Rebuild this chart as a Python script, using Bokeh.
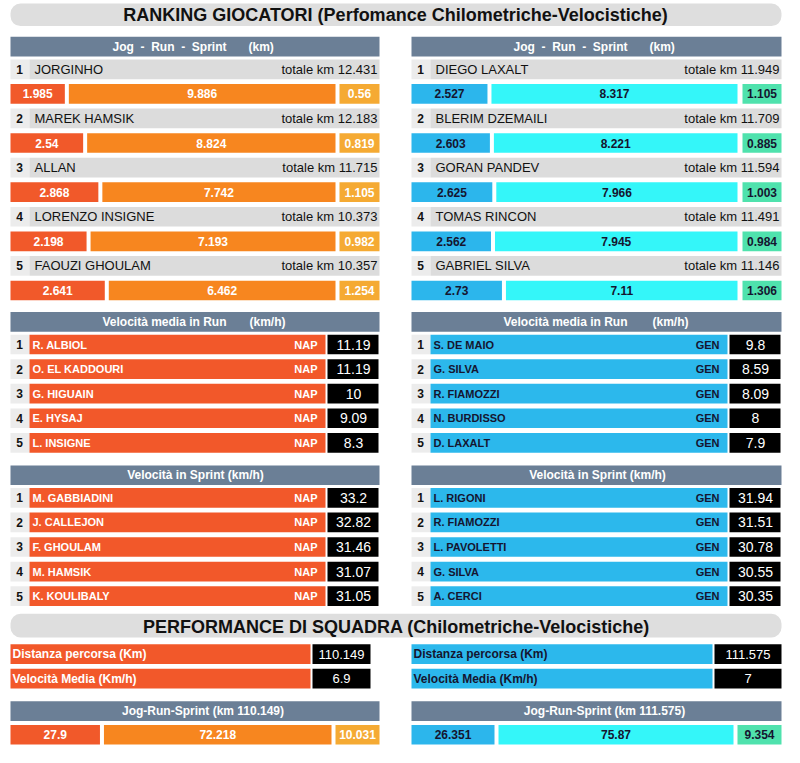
from bokeh.plotting import figure
from bokeh.models import Range1d, ColumnDataSource
from bokeh.core.properties import value
from bokeh.embed import file_html
from bokeh.resources import INLINE

# ---------------- data ----------------
nap_players = ["JORGINHO", "MAREK HAMSIK", "ALLAN", "LORENZO INSIGNE", "FAOUZI GHOULAM"]
nap_jog = [1.985, 2.54, 2.868, 2.198, 2.641]
nap_run = [9.886, 8.824, 7.742, 7.193, 6.462]
nap_sprint = [0.56, 0.819, 1.105, 0.982, 1.254]
nap_total = [12.431, 12.183, 11.715, 10.373, 10.357]

gen_players = ["DIEGO LAXALT", "BLERIM DZEMAILI", "GORAN PANDEV", "TOMAS RINCON", "GABRIEL SILVA"]
gen_jog = [2.527, 2.603, 2.625, 2.562, 2.73]
gen_run = [8.317, 8.221, 7.966, 7.945, 7.11]
gen_sprint = [1.105, 0.885, 1.003, 0.984, 1.306]
gen_total = [11.949, 11.709, 11.594, 11.491, 11.146]

nap_run_speed_players = ["R. ALBIOL", "O. EL KADDOURI", "G. HIGUAIN", "E. HYSAJ", "L. INSIGNE"]
nap_run_speed = [11.19, 11.19, 10, 9.09, 8.3]
gen_run_speed_players = ["S. DE MAIO", "G. SILVA", "R. FIAMOZZI", "N. BURDISSO", "D. LAXALT"]
gen_run_speed = [9.8, 8.59, 8.09, 8, 7.9]

nap_sprint_speed_players = ["M. GABBIADINI", "J. CALLEJON", "F. GHOULAM", "M. HAMSIK", "K. KOULIBALY"]
nap_sprint_speed = [33.2, 32.82, 31.46, 31.07, 31.05]
gen_sprint_speed_players = ["L. RIGONI", "R. FIAMOZZI", "L. PAVOLETTI", "G. SILVA", "A. CERCI"]
gen_sprint_speed = [31.94, 31.51, 30.78, 30.55, 30.35]

team_codes = ["NAP", "GEN"]
team_distance = [110.149, 111.575]
team_speed = [6.9, 7]
team_jog = [27.9, 26.351]
team_run = [72.218, 75.87]
team_sprint = [10.031, 9.354]

# ---------------- styles ----------------
FONT = value("Liberation Sans")
SLATE = "#6b7f96"
ROWBG = "#dcdcdc"
NUMBG = "#ececec"
NAP_C = {"jog": "#f1592a", "run": "#f7861f", "sprint": "#f5aa33", "name": "#f2582a", "txt": "white"}
GEN_C = {"jog": "#2cb6ec", "run": "#34f6f9", "sprint": "#4fe2ad", "name": "#2cb8ec", "txt": "#151530"}

p = figure(width=784, height=747, output_backend="svg", toolbar_location=None,
           x_range=Range1d(0, 784), y_range=Range1d(760, 0),
           min_border=0, background_fill_color="white", border_fill_color="white")
p.axis.visible = False
p.grid.visible = False
p.outline_line_color = None

boxes = dict(left=[], right=[], top=[], bottom=[], color=[])


def box(x0, x1, y0, y1, color):
    boxes["left"].append(x0)
    boxes["right"].append(x1)
    boxes["top"].append(y0)
    boxes["bottom"].append(y1)
    boxes["color"].append(color)


texts = []


def T(x, y, s, size=12, bold=True, color="white", align="left"):
    texts.append((x, y, s, size, bold, color, align))


def fmt(v):
    return f"{v:g}"


# ---------------- title bands ----------------
p.quad(left=[10, 10], right=[781, 781], top=[3, 624], bottom=[26, 648],
       fill_color="#dedede", line_color=None, border_radius=10)
T(395, 15, "RANKING GIOCATORI (Perfomance Chilometriche-Velocistiche)", size=18, color="#111111", align="center")
T(396, 637, "PERFORMANCE DI SQUADRA (Chilometriche-Velocistiche)", size=18, color="#111111", align="center")


# ---------------- jog-run-sprint panels ----------------
def jrs_bar(x0, x_run_end, x_spr0, x1, y0, y1, jog, run, spr, c):
    jog_end = x0 + (x_run_end - x0) * jog / (jog + run)
    box(x0, jog_end, y0, y1, c["jog"])
    box(jog_end + 4, x_run_end, y0, y1, c["run"])
    box(x_spr0, x1, y0, y1, c["sprint"])
    ym = (y0 + y1) / 2
    T((x0 + jog_end) / 2, ym, fmt(jog), size=12, color=c["txt"], align="center")
    T((jog_end + 4 + x_run_end) / 2, ym, fmt(run), size=12, color=c["txt"], align="center")
    T((x_spr0 + x1) / 2, ym, fmt(spr), size=12, color=c["txt"], align="center")


panels = [
    (10, 379, 335, 339, nap_players, nap_jog, nap_run, nap_sprint, nap_total, NAP_C),
    (411, 781, 737, 742, gen_players, gen_jog, gen_run, gen_sprint, gen_total, GEN_C),
]
for (x0, x1, xre, xs0, names, jog, run, spr, tot, c) in panels:
    box(x0, x1, 37, 57, SLATE)
    T(x0 + 102, 47, "Jog\u00a0 -\u00a0 Run\u00a0 -\u00a0 Sprint", size=12, color="white", align="left")
    T(x0 + 238, 47, "(km)", size=12, color="white", align="left")
    for i in range(len(names)):
        yn = 60 + 50 * i
        box(x0, x0 + 19, yn, yn + 20, NUMBG)
        box(x0 + 19, x1, yn, yn + 20, ROWBG)
        T(x0 + 9, yn + 10, str(i + 1), size=12, color="#111111", align="center")
        T(x0 + 24, yn + 10, names[i], size=13, bold=False, color="#111111")
        T(x1 - 2, yn + 10, "totale km " + fmt(tot[i]), size=13, bold=False, color="#111111", align="right")
        jrs_bar(x0, xre, xs0, x1, yn + 25, yn + 45, jog[i], run[i], spr[i], c)


# ---------------- speed tables ----------------
def speed_table(x0, x1, y_head, title_parts, names, vals, team, c):
    box(x0, x1, y_head, y_head + 20, SLATE)
    for (tx, s, al) in title_parts:
        T(x0 + tx, y_head + 10, s, size=12, color="white", align=al)
    for i in range(len(names)):
        y0 = y_head + 23 + 25 * i
        box(x0, x0 + 19, y0, y0 + 20, NUMBG)
        box(x0 + 19, x1 - 54, y0, y0 + 20, c["name"])
        box(x1 - 52, x1 - 1, y0, y0 + 20, "#000000")
        T(x0 + 9, y0 + 10, str(i + 1), size=12, color="#111111", align="center")
        T(x0 + 22, y0 + 10, names[i], size=11, color=c["txt"])
        T(x1 - 62, y0 + 10, team, size=11, color=c["txt"], align="right")
        T(x1 - 26, y0 + 10, fmt(vals[i]), size=14, bold=False, color="white", align="center")


speed_table(10, 379, 317, [(92, "Velocità media in Run", "left"), (239, "(km/h)", "left")],
            nap_run_speed_players, nap_run_speed, team_codes[0], NAP_C)
speed_table(411, 781, 317, [(92, "Velocità media in Run", "left"), (241, "(km/h)", "left")],
            gen_run_speed_players, gen_run_speed, team_codes[1], GEN_C)
speed_table(10, 379, 473, [(185, "Velocità in Sprint (km/h)", "center")],
            nap_sprint_speed_players, nap_sprint_speed, team_codes[0], NAP_C)
speed_table(411, 781, 473, [(186, "Velocità in Sprint (km/h)", "center")],
            gen_sprint_speed_players, gen_sprint_speed, team_codes[1], GEN_C)

# ---------------- team performance ----------------
team_layout = [(10, 379, 310, 312, 370, 331, 335, NAP_C), (411, 781, 712, 714, 781, 733, 737, GEN_C)]
for k, (x0, x1, xn1, xb0, xb1, xre, xs0, c) in enumerate(team_layout):
    for j, (lab, v) in enumerate([("Distanza percorsa (Km)", team_distance[k]),
                                   ("Velocità Media (Km/h)", team_speed[k])]):
        y0 = 655 + 25 * j
        box(x0, xn1, y0, y0 + 20, c["name"])
        box(xb0, xb1, y0, y0 + 20, "#000000")
        T(x0 + 2, y0 + 10, lab, size=12, color=c["txt"])
        T((xb0 + xb1) / 2, y0 + 10, fmt(v), size=13, bold=False, color="white", align="center")
    box(x0, x1, 713, 733, SLATE)
    T((x0 + x1) / 2 + 8, 723, "Jog-Run-Sprint (km " + fmt(team_distance[k]) + ")", size=12, color="white", align="center")
    jrs_bar(x0, xre, xs0, x1, 737, 757, team_jog[k], team_run[k], team_sprint[k], c)

p.quad(left="left", right="right", top="top", bottom="bottom", fill_color="color",
       line_color=None, source=ColumnDataSource(boxes))

for (x, y, s, size, bold, color, align) in texts:
    p.text(x=[x], y=[y], text=[s], text_font=FONT, text_font_size=f"{size}px",
           text_font_style="bold" if bold else "normal", text_color=color,
           text_align=align, text_baseline="middle")

open("out.html", "w").write(file_html(p, INLINE))
